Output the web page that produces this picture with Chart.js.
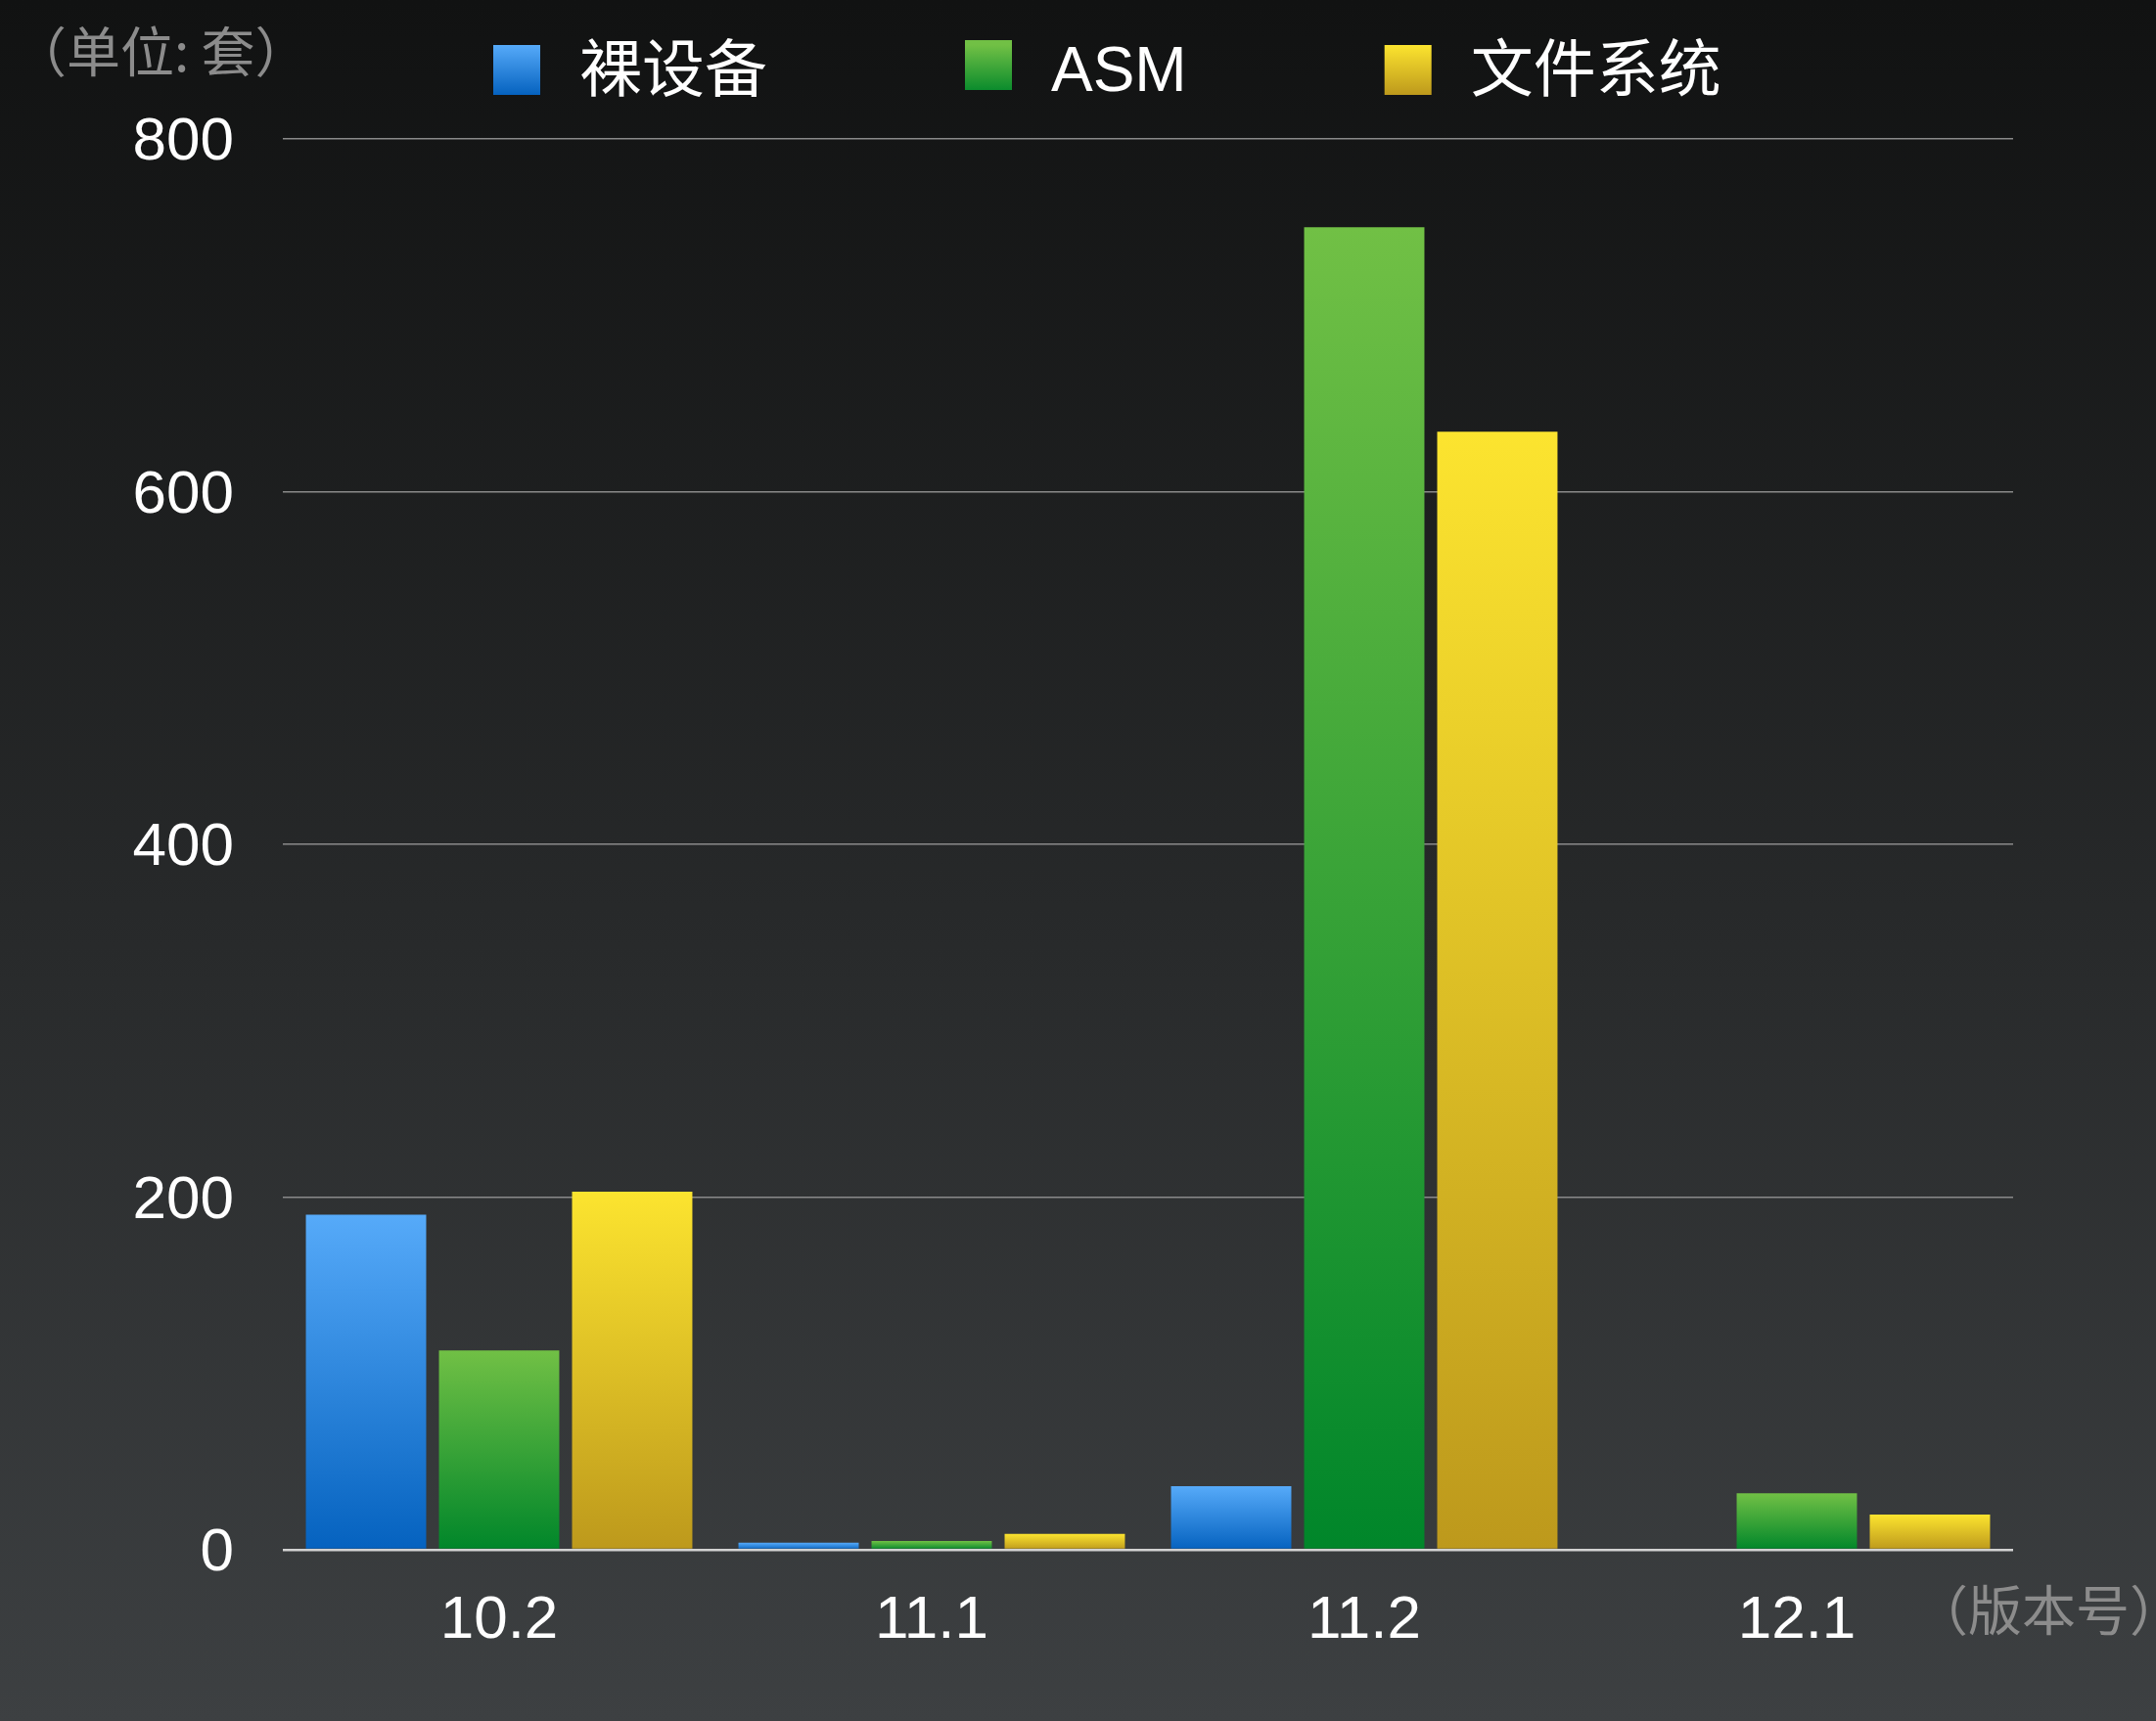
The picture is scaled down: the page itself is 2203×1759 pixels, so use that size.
<!DOCTYPE html>
<html>
<head>
<meta charset="utf-8">
<title>版本部署统计</title>
<script src="https://cdn.jsdelivr.net/npm/chart.js@4.4.1/dist/chart.umd.min.js"></script>
<style>
  html, body { margin: 0; padding: 0; overflow: hidden; }
  body { background: linear-gradient(to bottom, #111212 0%, #282a2b 55%, #3d4042 100%); }
  canvas { display: block; }
</style>
</head>
<body>
<canvas id="myChart" width="2203" height="1759"></canvas>
<script>
// versions on the x axis
var versions = ['10.2', '11.1', '11.2', '12.1'];
// installs per storage type (套)
var rawDevice = [190, 4, 36, 0];
var asm = [113, 5, 750, 32];
var fileSystem = [203, 9, 634, 20];
var yTicks = [0, 200, 400, 600, 800];

var tickFont = '"Liberation Sans", Arial, sans-serif';
var cjkFont = '"Liberation Sans", "Noto Sans CJK SC", sans-serif';

// light at the top of each bar, darker at its base
function barFill(top, bottom) {
    return function (c) {
        if (c.type !== 'data') return top;
        var y = c.chart.scales.y;
        var y0 = y.getPixelForValue(c.raw);
        var y1 = y.getPixelForValue(0);
        if (!isFinite(y0) || !isFinite(y1) || y0 === y1) return bottom;
        var g = c.chart.ctx.createLinearGradient(0, y0, 0, y1);
        g.addColorStop(0, top);
        g.addColorStop(1, bottom);
        return g;
    };
}

var colors = [
    ['#56aaf9', '#0562bf'],
    ['#71c045', '#00862a'],
    ['#fce42f', '#bd991c']
];

// legend row + unit captions
var decorations = {
    id: 'decorations',
    afterDraw: function (chart) {
        var ctx = chart.ctx;
        ctx.save();
        ctx.textBaseline = 'middle';
        ctx.textAlign = 'left';

        ctx.font = '64px ' + cjkFont;
        var x = 504, boxW = 48, boxH = 51, boxTop = 46;
        chart.data.datasets.forEach(function (ds, i) {
            var g = ctx.createLinearGradient(0, boxTop, 0, boxTop + boxH);
            g.addColorStop(0, colors[i][0]);
            g.addColorStop(1, colors[i][1]);
            ctx.fillStyle = g;
            ctx.fillRect(x, boxTop - (i === 1 ? 5 : 0), boxW, boxH);
            ctx.fillStyle = '#ffffff';
            ctx.fillText(ds.label, x + 88, 75);
            x += 88 + ctx.measureText(ds.label).width + 202;
        });

        ctx.fillStyle = '#8c8c8c';
        ctx.font = '55px "Noto Sans CJK SC", sans-serif';
        ctx.fillText('（单位: 套）', 13, 52);
        ctx.fillText('（版本号）', 1956, 1645);
        ctx.restore();
    }
};

var ctx = document.getElementById('myChart').getContext('2d');
var myBarChart = new Chart(ctx, {
    type: 'bar',
    data: {
        labels: versions,
        datasets: [{
            label: '裸设备',
            data: rawDevice,
            backgroundColor: barFill(colors[0][0], colors[0][1])
        }, {
            label: 'ASM',
            data: asm,
            backgroundColor: barFill(colors[1][0], colors[1][1])
        }, {
            label: '文件系统',
            data: fileSystem,
            backgroundColor: barFill(colors[2][0], colors[2][1])
        }]
    },
    options: {
        responsive: false,
        devicePixelRatio: 1,
        animation: false,
        categoryPercentage: 0.923,
        barPercentage: 0.904,
        layout: { padding: { top: 142, right: 146, bottom: 0, left: 0 } },
        plugins: {
            legend: { display: false },
            tooltip: { enabled: false }
        },
        scales: {
            x: {
                grid: { display: false },
                border: { display: false },
                ticks: {
                    color: '#ffffff',
                    font: { family: tickFont, size: 62 },
                    padding: 28,
                    maxRotation: 0
                },
                afterFit: function (scale) { scale.height = 175; }
            },
            y: {
                min: 0,
                max: 800,
                afterBuildTicks: function (scale) {
                    scale.ticks = yTicks.map(function (v) { return { value: v }; });
                },
                grid: {
                    drawTicks: false,
                    color: function (c) { return c.tick && c.tick.value === 0 ? '#d2d2d2' : '#8a8a8a'; },
                    lineWidth: function (c) { return c.tick && c.tick.value === 0 ? 2.5 : 1.5; }
                },
                border: { display: false },
                ticks: {
                    color: '#ffffff',
                    font: { family: tickFont, size: 62 },
                    padding: 50,
                    labelOffset: 4
                },
                afterFit: function (scale) { scale.width = 289; }
            }
        }
    },
    plugins: [decorations]
});
</script>
</body>
</html>
